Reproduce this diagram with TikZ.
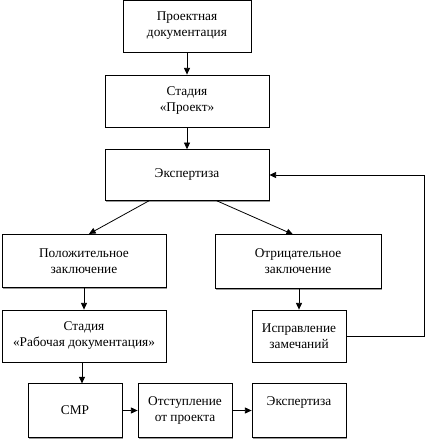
\documentclass[tikz,border=0pt]{standalone}
\usepackage{fontspec}
\setmainfont{Liberation Serif}
\usetikzlibrary{arrows.meta,shadows,calc}
\tikzset{
  box/.style={draw, fill=white, line width=0.6pt, align=center, inner sep=1pt,
    font=\fontsize{10}{12}\selectfont,
    drop shadow={shadow xshift=1.1pt, shadow yshift=-1.1pt, fill=black!40, opacity=1}},
  arr/.style={-{Triangle[length=5pt,width=4.5pt]}, line width=0.6pt}
}
\begin{document}
\begin{tikzpicture}[x=0.75pt,y=-0.75pt]
\useasboundingbox (0,0) rectangle (434,441);
\node[box, minimum width=96pt, minimum height=39pt] (projdoc) at (187,26){Проектная\\документация};
\node[box, minimum width=123pt, minimum height=39pt] (stproj) at (187,101){Стадия\\«Проект»};
\node[box, minimum width=123pt, minimum height=38pt] (expert) at (187,175){Экспертиза};
\node[box, minimum width=123pt, minimum height=40pt] (positive) at (84,261){Положительное\\заключение};
\node[box, minimum width=124.5pt, minimum height=40pt] (negative) at (298,261.5){Отрицательное\\заключение};
\node[box, minimum width=123pt, minimum height=39pt] (stwork) at (84,336){Стадия\\«Рабочая документация»};
\node[box, minimum width=70.5pt, minimum height=39pt] (rework) at (299,336){Исправление\\замечаний};
\node[box, minimum width=70.5pt, minimum height=40pt] (smr) at (75,410.5){СМР};
\node[box, minimum width=70.5pt, minimum height=40pt] (deviate) at (185,410.5){Отступление\\от проекта};
\node[box, minimum width=70.5pt, minimum height=40pt, text depth=14pt] (expert2) at (299,410.5){Экспертиза};
\draw[arr](projdoc) -- (stproj);
\draw[arr](stproj) -- (expert);
\draw[arr]($(expert.south west)!0.27!(expert.south east)$) -- ($(positive.north west)!0.53!(positive.north east)$);
\draw[arr]($(expert.south west)!0.68!(expert.south east)$) -- ($(negative.north west)!0.47!(negative.north east)$);
\draw[arr](positive) -- (stwork);
\draw[arr](negative.south -| rework) -- (rework);
\draw[arr](rework.east) -- ++(78,0) |- (expert.east);
\draw[arr](stwork.south -| 82,0) -- (smr.north -| 82,0);
\draw[arr](smr) -- (deviate);
\draw[arr](deviate) -- (expert2);
\end{tikzpicture}
\end{document}
